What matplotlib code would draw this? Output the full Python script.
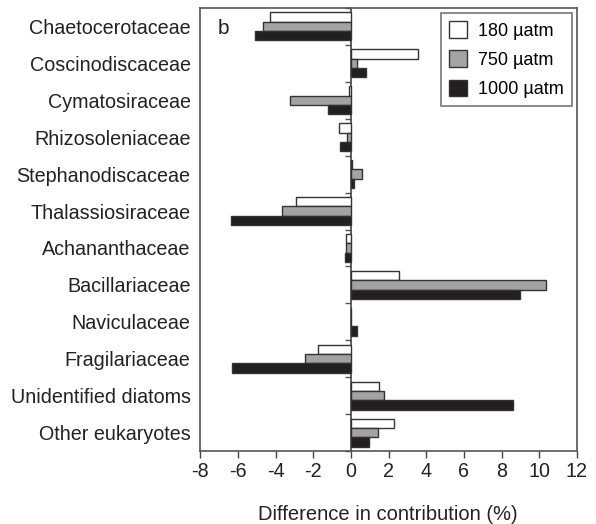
import numpy as np
import matplotlib.pyplot as plt

plt.rcParams['font.family'] = ['Liberation Sans', 'DejaVu Sans']
plt.rcParams['axes.unicode_minus'] = False

families = ['Chaetocerotaceae', 'Coscinodiscaceae', 'Cymatosiraceae',
            'Rhizosoleniaceae', 'Stephanodiscaceae', 'Thalassiosiraceae',
            'Achananthaceae', 'Bacillariaceae', 'Naviculaceae',
            'Fragilariaceae', 'Unidentified diatoms', 'Other eukaryotes']

# difference in contribution (%) per pCO2 treatment
co2_180 = [-4.31, 3.57, -0.10, -0.62, 0.06, -2.93, -0.28, 2.53, 0.0, -1.73, 1.50, 2.30]
co2_750 = [-4.65, 0.30, -3.24, -0.23, 0.60, -3.66, -0.25, 10.38, 0.0, -2.42, 1.77, 1.45]
co2_1000 = [-5.09, 0.78, -1.24, -0.58, 0.16, -6.38, -0.30, 9.00, 0.34, -6.30, 8.62, 0.94]

series = [('180 µatm', co2_180, 'white'),
          ('750 µatm', co2_750, '#a3a3a5'),
          ('1000 µatm', co2_1000, '#231f20')]

fig = plt.figure(figsize=(5.96, 5.24), dpi=100)
ax = fig.add_axes([0.336, 0.139, 0.632, 0.846])

y = np.arange(len(families))
h = 0.25
for k, (lab, vals, col) in enumerate(series):
    ax.barh(y + (k - 1) * h, vals, height=h, color=col, edgecolor='#333333',
            linewidth=1.0, label=lab)

ax.set_xlim(-8, 12)
ax.set_ylim(len(families) - 0.5, -0.5)
ax.set_xticks(np.arange(-8, 13, 2))
ax.set_yticks(y)
ax.set_yticklabels(families)
ax.tick_params(axis='y', length=0, pad=7, labelsize=14.2, colors='#222222')
ax.tick_params(axis='x', length=5, width=1, direction='out', labelsize=14.2,
               colors='#444444', labelcolor='#222222', pad=3)
for s in ax.spines.values():
    s.set_color('#555555')
    s.set_linewidth(1.2)

# zero line with small category ticks
zax = ax.secondary_yaxis(8 / 20)
zax.set_yticks(np.arange(len(families) + 1) - 0.5)
zax.set_yticklabels([])
zax.tick_params(length=4, width=1, colors='#555555', direction='out')
zax.spines['left'].set_color('#444444')
zax.spines['left'].set_linewidth(1.2)

ax.text(0.045, 0.975, 'b', transform=ax.transAxes, fontsize=15,
        va='top', ha='left', color='#222222')

leg = ax.legend(loc='upper right', fontsize=13, frameon=True, fancybox=False,
                edgecolor='#555555', handlelength=1.0, handleheight=1.0,
                handletextpad=0.6, labelspacing=0.6, borderpad=0.45,
                borderaxespad=0.3)
leg.get_frame().set_linewidth(1.2)

fig.text(0.651, 0.008, 'Difference in contribution (%)', ha='center',
         fontsize=14.5, color='#222222')

fig.savefig('out.png', dpi=100)
